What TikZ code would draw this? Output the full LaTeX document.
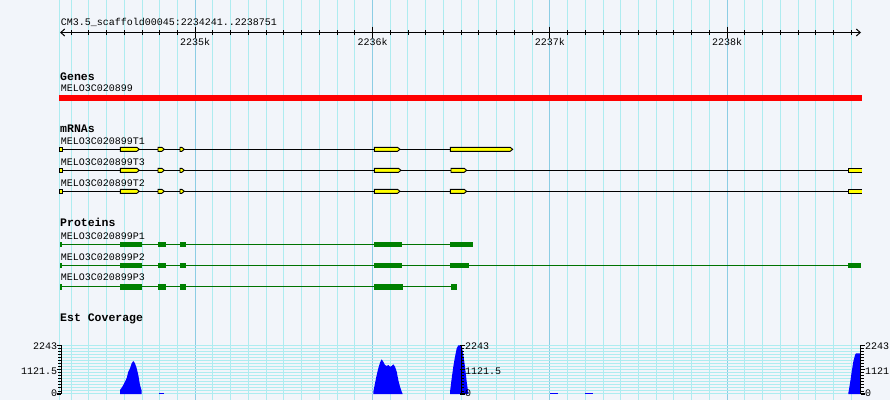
\documentclass[tikz,border=0pt]{standalone}
\usepackage{fontspec}
\newfontfamily\gbfont{Liberation Mono}
\usetikzlibrary{arrows.meta}

\definecolor{panelbg}{RGB}{242,245,250}
\definecolor{gridminor}{RGB}{174,236,240}
\definecolor{gridmajor}{RGB}{140,205,228}
\definecolor{utryellow}{RGB}{255,255,0}
\definecolor{cdsgreen}{RGB}{0,128,0}
\definecolor{covblue}{RGB}{0,0,255}

\tikzset{
  lbl/.style={anchor=base west, inner sep=0pt, font=\gbfont\fontsize{10}{12}\selectfont},
  hdr/.style={lbl, font=\gbfont\bfseries\fontsize{11.5}{13}\selectfont},
  axlbl/.style={lbl, anchor=base east},
  grd/.style={gridminor, line width=1pt},
  intron/.style={black, line width=0.9pt},
  exon/.style={draw=black, fill=utryellow, line width=0.9pt},
  pline/.style={cdsgreen!90!black, line width=1pt},
  cds/.style={fill=cdsgreen},
  barb/.tip={Straight Barb[length=4pt,width=7pt]}
}

\begin{document}
\begin{tikzpicture}[x=1pt, y=-1pt]
\useasboundingbox[fill=panelbg] (0,0) rectangle (890,400);

% grid
\draw[grd] (59.5,0) -- ++(0,400);
\foreach \n in {0,...,44}
  \draw[grd] ({71.1+\n*17.73},0) -- ++(0,400);
\foreach \n in {7,17,27,37}
  \draw[grd, gridmajor] ({71.1+\n*17.73},0) -- ++(0,400);
\foreach \n in {0,...,16}
  \draw[grd] (61,{345.3+\n*3.04}) -- (861,{345.3+\n*3.04});

% ruler
\node[lbl] (title) at (60.7,25) {CM3.5\_scaffold00045:2234241..2238751};
\draw[barb-barb, line width=1pt] (60,32.5) -- (861,32.5);
\foreach \n in {0,...,44}
  \draw[line width=0.9pt] ({71.1+\n*17.73},30.3) -- ++(0,4.4);
\foreach \k [count=\i from 0] in {2235,...,2238} {
  \draw[line width=0.9pt] ({195.2+\i*177.3},26.7) -- ++(0,11.5);
  \node[lbl, anchor=base] (k\k) at ({195.2+\i*177.3},45.7) {\k k};
}

% genes
\node[hdr] (genes) at (60,80) {Genes};
\node[lbl] (gene) at (60.7,91.7) {MELO3C020899};
\fill[red] (59.3,95) rectangle (861.7,100.7);

% mRNAs
\node[hdr] (mrnas) at (60,132) {mRNAs};
\foreach \t/\yl in {T1/144, T3/165, T2/186}
  \node[lbl] (\t) at (60.7,\yl) {MELO3C020899\t};
\draw[intron] (60,149.3) -- (512.7,149.3);
\draw[intron] (60,170.3) -- (862,170.3);
\draw[intron] (60,191.3) -- (862,191.3);
\foreach \y in {149.3,170.3,191.3} {
  \draw[exon] (59.6,\y-2) rectangle (62,\y+2);
  \foreach \a/\b in {120.3/139.3, 158/164.3, 180/184.3}
    \draw[exon] (\a,\y-2) -- (\b-2.5,\y-2) -- (\b,\y) -- (\b-2.5,\y+2) -- (\a,\y+2) -- cycle;
}
\foreach \y/\a/\b in {149.3/374.3/400, 149.3/450.3/512.7, 170.3/374.3/401,
                      170.3/451/466.7, 191.3/374.3/400, 191.3/450.3/466.7}
  \draw[exon] (\a,\y-2) -- (\b-2.5,\y-2) -- (\b,\y) -- (\b-2.5,\y+2) -- (\a,\y+2) -- cycle;
\foreach \y in {170.3,191.3} {
  \fill[utryellow] (848.3,\y-2) rectangle (862,\y+2);
  \draw[line width=0.9pt] (862,\y-2) -- (848.3,\y-2) -- (848.3,\y+2) -- (862,\y+2);
}

% proteins
\node[hdr] (proteins) at (60,226.7) {Proteins};
\foreach \p/\yl in {P1/239, P2/260, P3/280.7}
  \node[lbl] (\p) at (60.7,\yl) {MELO3C020899\p};
\draw[pline] (60,244.3) -- (473,244.3);
\draw[pline] (60,265.3) -- (861,265.3);
\draw[pline] (60,286.7) -- (457,286.7);
\foreach \y in {244.3,265.3,286.7}
  \foreach \a/\b in {60/62, 120/142, 158/166, 180/186}
    \fill[cds] (\a,\y-2.6) rectangle (\b,\y+3);
\foreach \y/\a/\b in {244.3/374/402, 244.3/450/473, 265.3/374/402, 265.3/450/469,
                      265.3/848/861, 286.7/374/403, 286.7/451/457}
  \fill[cds] (\a,\y-2.6) rectangle (\b,\y+3);

% est coverage
\node[hdr] (est) at (60,321.7) {Est Coverage};
\fill[covblue] (120,394) -- (120,390) -- (121.7,387.7) -- (123.3,385) -- (125,381.7)
  -- (126.7,378) -- (128.3,371.7) -- (130,368.3) -- (131.7,363.3) -- (133.3,361)
  -- (135,363.3) -- (136.7,368.3) -- (138.3,375) -- (140,385) -- (141.7,390.7) -- (141.7,394) -- cycle;
\fill[covblue] (373.3,394) -- (373.3,391.7) -- (375,383.3) -- (376.7,375) -- (378.3,368.3)
  -- (380,362.7) -- (381.7,359.3) -- (383.3,361.7) -- (385,365) -- (386.7,366) -- (388.3,365)
  -- (390,366.7) -- (391.7,366) -- (393.3,364.3) -- (395,366.7) -- (396.7,371.7) -- (398.3,380)
  -- (400,386.7) -- (401.7,391.7) -- (402.7,394) -- cycle;
\fill[covblue] (450,394) -- (450,391.7) -- (451.7,378.3) -- (453.3,366.7) -- (455,356.7)
  -- (456.7,348.3) -- (458.3,345.3) -- (461.7,345.3) -- (463.3,355) -- (465,366.7)
  -- (466.7,381.7) -- (468.3,393.3) -- (468.3,394) -- cycle;
\fill[covblue] (848.3,394) -- (848.3,393.3) -- (850,383.3) -- (851.7,371.7) -- (853.3,361.7)
  -- (855,355) -- (856,353.3) -- (860,353.3) -- (860,394) -- cycle;
\foreach \a/\b in {159.3/164.3, 550/557.7, 585.3/593.3}
  \fill[covblue] (\a,393) rectangle (\b,394.3);

% axes
\draw[line width=1pt] (61,345.3) -- (61,394.3);
\draw[line width=1pt] (461.7,345.3) -- (461.7,394.3);
\draw[line width=1pt] (860.7,345.3) -- (860.7,394.3);
\foreach \n in {0,...,16} {
  \draw[line width=0.8pt] (58.3,{345.3+\n*3.04}) -- (61,{345.3+\n*3.04});
  \draw[line width=0.8pt] (461.7,{345.3+\n*3.04}) -- (464.2,{345.3+\n*3.04});
  \draw[line width=0.8pt] (860.7,{345.3+\n*3.04}) -- (863.5,{345.3+\n*3.04});
}
\foreach \n in {0,8,16} {
  \draw[line width=1.3pt] (56.5,{345.3+\n*3.04}) -- (61,{345.3+\n*3.04});
  \draw[line width=1.3pt] (459.5,{345.3+\n*3.04}) -- (464.5,{345.3+\n*3.04});
  \draw[line width=1.3pt] (860.7,{345.3+\n*3.04}) -- (864.5,{345.3+\n*3.04});
}
\node[axlbl] (lmax) at (57.3,349.3) {2243};
\node[axlbl] (lmid) at (57.3,374) {1121.5};
\node[axlbl] (lmin) at (57.3,396.7) {0};
\node[lbl] (mmax) at (465,349.3) {2243};
\node[lbl] (mmid) at (465,374) {1121.5};
\node[lbl] (mmin) at (465,396.7) {0};
\node[lbl] (rmax) at (865,349.3) {2243};
\node[lbl] (rmid) at (865,374) {1121};
\node[lbl] (rmin) at (865,396.7) {0};
\end{tikzpicture}
\end{document}
